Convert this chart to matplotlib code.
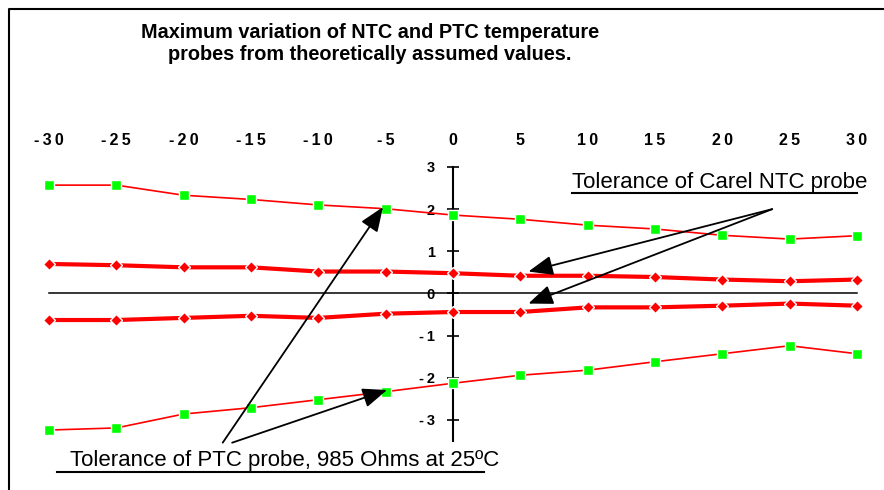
import matplotlib
matplotlib.use("Agg")
import matplotlib.pyplot as plt
from matplotlib import font_manager
from matplotlib.lines import Line2D

# temperature (°C) and deviation (°C) of each probe band
temps = [-30, -25, -20, -15, -10, -5, 0, 5, 10, 15, 20, 25, 30]
ptc_upper = [2.57, 2.57, 2.33, 2.23, 2.10, 2.01, 1.86, 1.76, 1.62, 1.53, 1.38, 1.29, 1.37]
ptc_lower = [-3.24, -3.19, -2.86, -2.71, -2.52, -2.33, -2.13, -1.94, -1.82, -1.62, -1.43, -1.24, -1.43]
ntc_upper = [0.70, 0.67, 0.62, 0.62, 0.52, 0.52, 0.48, 0.42, 0.42, 0.39, 0.33, 0.29, 0.33]
ntc_lower = [-0.63, -0.63, -0.58, -0.53, -0.58, -0.48, -0.44, -0.44, -0.33, -0.33, -0.29, -0.24, -0.29]
y_ticks = [-3, -2, -1, 0, 1, 2, 3]

title_lines = ["Maximum variation of NTC and PTC temperature",
               "probes from theoretically assumed values."]
ntc_note = "Tolerance of Carel NTC probe"
ptc_note = "Tolerance of PTC probe, 985 Ohms at 25ºC"

RED = "#FF0000"
GREEN = "#00FF00"

names = {f.name for f in font_manager.fontManager.ttflist}
BASE = "Liberation Sans" if "Liberation Sans" in names else "DejaVu Sans"
plt.rcParams["font.family"] = [BASE, "DejaVu Sans"]

W, H = 884, 490


def spaced(v):
    # Excel-style expanded character spacing
    return "\u2009".join(str(v))


def px(x, y):
    return x / W, 1 - y / H


fig = plt.figure(figsize=(W / 100, H / 100), dpi=100)

# chart frame (left and top edges visible)
fig.add_artist(Line2D([9 / W, 9 / W, 1.0], [0.0, 1 - 9 / H, 1 - 9 / H],
                      color="black", lw=1.5, transform=fig.transFigure))

# axes placed so x=-30..30 spans 49..857 px and y=3..-3.5 spans 167..441 px
ax = fig.add_axes([49 / W, 1 - 441 / H, 808 / W, 274 / H])
ax.set_xlim(-30, 30)
ax.set_ylim(-3.5, 3)
ax.patch.set_alpha(0)

for s in ("top", "right"):
    ax.spines[s].set_visible(False)
ax.spines["left"].set_position(("data", 0))
ax.spines["bottom"].set_position(("data", 0))
ax.spines["left"].set_linewidth(1.5)
ax.spines["bottom"].set_linewidth(1.1)

ax.set_xticks(temps)
ax.set_xticklabels([spaced(t) for t in temps], fontweight="bold", fontsize=11.5)
ax.tick_params(axis="x", bottom=False, labelbottom=False, top=True, labeltop=True,
               length=0, pad=14)
ax.set_yticks(y_ticks)
ax.set_yticklabels([spaced(t) for t in y_ticks], fontweight="bold", fontsize=10.5)
ax.tick_params(axis="y", direction="inout", length=8, width=1.2, pad=9)

ax.plot(temps, ptc_upper, color=RED, lw=1.2, marker="s", ms=7.5, mfc=GREEN,
        mec="white", mew=1, zorder=3, clip_on=False)
ax.plot(temps, ptc_lower, color=RED, lw=1.2, marker="s", ms=7.5, mfc=GREEN,
        mec="white", mew=1, zorder=3, clip_on=False)
ax.plot(temps, ntc_upper, color=RED, lw=3, marker="D", ms=6, mfc=RED,
        mec="white", mew=1, zorder=3, clip_on=False)
ax.plot(temps, ntc_lower, color=RED, lw=3, marker="D", ms=6, mfc=RED,
        mec="white", mew=1, zorder=3, clip_on=False)

# callout arrows
arrow = dict(arrowstyle="-|>,head_length=1.5,head_width=0.6", color="black",
             lw=1.3, shrinkA=0, shrinkB=0)
for tx, ty in [(5.6, 0.52), (5.6, -0.24)]:
    ax.annotate("", xy=(tx, ty), xytext=(23.7, 2.0), arrowprops=arrow,
                annotation_clip=False, zorder=4)
ax.annotate("", xy=(-5.2, 2.05), xytext=(-17.1, -3.54), arrowprops=arrow,
            annotation_clip=False, zorder=4)
ax.annotate("", xy=(-4.9, -2.29), xytext=(-16.4, -3.54), arrowprops=arrow,
            annotation_clip=False, zorder=4)

# title and notes
for i, line in enumerate(title_lines):
    fig.text(*px(370, 38 + 22 * i), line, ha="center", va="baseline",
             fontsize=14.3, fontweight="bold")

fig.text(*px(572, 188), ntc_note, ha="left", va="baseline", fontsize=16)
fig.add_artist(Line2D([572 / W, 857 / W], [1 - 193 / H] * 2, color="black",
                      lw=1.5, transform=fig.transFigure))
fig.text(*px(70, 466), ptc_note, ha="left", va="baseline", fontsize=16)
fig.add_artist(Line2D([57 / W, 484 / W], [1 - 472 / H] * 2, color="black",
                      lw=1.5, transform=fig.transFigure))

fig.savefig("out.png", dpi=100)
